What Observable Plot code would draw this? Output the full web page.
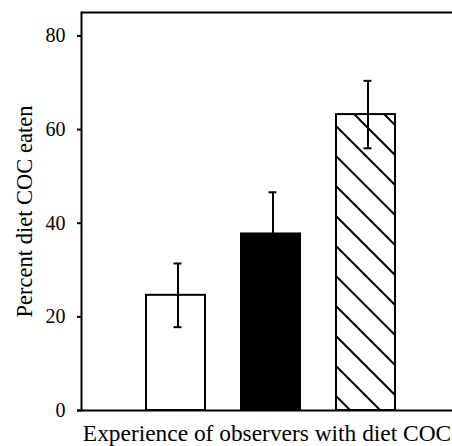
<!DOCTYPE html>
<html>
<head>
<meta charset="utf-8">
<script src="https://cdn.jsdelivr.net/npm/d3@7"></script>
<script src="https://cdn.jsdelivr.net/npm/@observablehq/plot@0.6"></script>
<style>
  html, body { margin: 0; padding: 0; background: #fff; }
  svg { font-family: "Liberation Serif", "DejaVu Serif", serif; }
</style>
</head>
<body>
<div id="chart"></div>
<script>
const groups = ["Group 1", "Group 2", "Group 3"];
const means = [24.6, 37.7, 63.2];
const errors = [6.8, 8.9, 7.2];
const fills = ["white", "black", "url(#hatch)"];
const yTicks = [0, 20, 40, 60, 80];

const data = groups.map((g, i) => ({
  group: g, mean: means[i], lo: means[i] - errors[i], hi: means[i] + errors[i], fill: fills[i]
}));

const chart = Plot.plot({
  width: 452,
  height: 446,
  marginLeft: 81,
  marginRight: 0,
  marginTop: 12,
  marginBottom: 36,
  style: {fontFamily: "Liberation Serif, serif", fontSize: "20px", color: "black", background: "white"},
  x: {domain: groups, paddingInner: 0.376, paddingOuter: 0.632, align: 0.53, axis: null},
  y: {domain: [0, 85]},
  marks: [
    Plot.barY(data, {x: "group", y: "mean", fill: "fill", stroke: "black", strokeWidth: 2}),
    Plot.ruleX(data, {x: "group", y1: "lo", y2: "hi", stroke: "black", strokeWidth: 2, dx: 2}),
    Plot.tickY(data, {x: "group", y: "hi", stroke: "black", strokeWidth: 2, dx: 2, insetLeft: 25.5, insetRight: 25.5}),
    Plot.tickY(data, {x: "group", y: "lo", stroke: "black", strokeWidth: 2, dx: 2, insetLeft: 25.5, insetRight: 25.5}),
    Plot.ruleY([0], {stroke: "black", strokeWidth: 2, insetLeft: -4}),
    Plot.ruleY([85], {stroke: "black", strokeWidth: 2}),
    Plot.frame({anchor: "left", stroke: "black", strokeWidth: 2}),
    Plot.axisY(yTicks, {tickSize: 4, tickPadding: 12, label: null, fontSize: 20, strokeWidth: 2}),
    Plot.axisY({ticks: [], tickSize: 0, label: "Percent diet COC eaten", labelArrow: "none", labelAnchor: "center", labelOffset: 65, fontSize: 22.5}),
    Plot.axisX({ticks: [], label: "Experience of observers with diet COC", labelArrow: "none", labelAnchor: "center", labelOffset: 30, fontSize: 23.4, tickSize: 0})
  ]
});

const svg = d3.select(chart);
const defs = svg.insert("defs", ":first-child");
const pat = defs.append("pattern")
  .attr("id", "hatch")
  .attr("patternUnits", "userSpaceOnUse")
  .attr("width", 30).attr("height", 30);
pat.append("rect").attr("width", 30).attr("height", 30).attr("fill", "white");
pat.append("path").attr("d", "M-3,-3 L33,33 M-3,27 L3,33 M27,-3 L33,3").attr("stroke", "black").attr("stroke-width", 2);

document.getElementById("chart").appendChild(chart);
</script>
</body>
</html>
